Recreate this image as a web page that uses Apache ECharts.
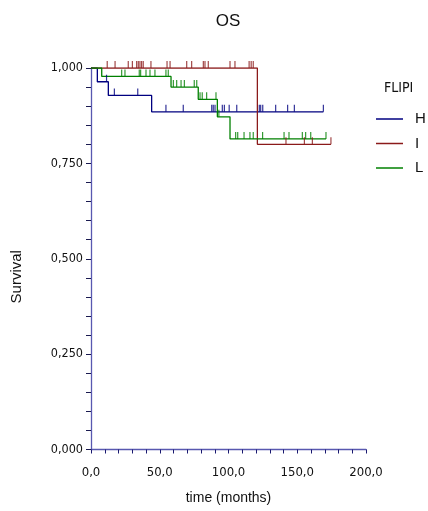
<!DOCTYPE html>
<html><head><meta charset="utf-8">
<script src="https://cdn.jsdelivr.net/npm/echarts@6/dist/echarts.min.js"></script>
<style>html,body{margin:0;padding:0;background:#fff}#c{width:428px;height:511px}</style>
</head><body><div id="c"></div>
<script>
// Kaplan-Meier step data (time in months, survival)
const groupNames = ['H', 'I', 'L'];
const hTimes = [0, 4.6, 12.6, 44.1, 169];
const hSurv  = [1, 0.964, 0.928, 0.885, 0.885];
const iTimes = [0, 121, 174.5];
const iSurv  = [1, 0.8, 0.8];
const lTimes = [0, 7.8, 58.2, 78, 91.9, 101.1, 170.9];
const lSurv  = [1, 0.978, 0.95, 0.918, 0.872, 0.814, 0.814];
// censoring times
const hCensor = [11.3, 17, 34, 54.5, 67.1, 87.8, 88.9, 90.2, 95.5, 97, 100.5, 106, 122.4, 123.4, 124.9, 134.3, 143, 147.9, 169];
const iCensor = [11.8, 17.5, 27.1, 30.1, 33.2, 34.4, 35.6, 36.8, 38, 43.6, 55.3, 57.5, 69.6, 73.2, 81.7, 82.9, 85.3, 101.1, 104.7, 115, 116.5, 118, 141.8, 155.2, 161, 174.5];
const lCensor = [22.3, 24.7, 35.1, 36.1, 40, 42.9, 46.5, 54.5, 56.2, 59.9, 62.3, 65.5, 67.9, 75.1, 76.9, 79.3, 80.9, 84.1, 90.9, 93, 105.2, 106.7, 111.3, 115.6, 118, 124.8, 140.4, 144, 153.7, 156.1, 159.8, 170.9];
const xLabelValues = [0, 50, 100, 150, 200];
const yLabelValues = [0, 0.25, 0.5, 0.75, 1];

const colors = { H: '#000080', I: '#8b1a1a', L: '#008000' };

function survAt(times, surv, t) {
  let s = surv[0];
  for (let i = 0; i < times.length; i++) { if (times[i] <= t) s = surv[i]; }
  return s;
}
function steps(times, surv) { return times.map((t, i) => [t, surv[i]]); }
function censorPts(c, times, surv) { return c.map(t => [t, survAt(times, surv, t)]); }

const curveData = {
  H: [hTimes, hSurv, hCensor],
  I: [iTimes, iSurv, iCensor],
  L: [lTimes, lSurv, lCensor]
};

const series = [];
groupNames.forEach(g => {
  const [t, s] = curveData[g];
  series.push({
    name: g, type: 'line', step: 'end', data: steps(t, s), symbol: 'none',
    lineStyle: { color: colors[g], width: 1.3 }, itemStyle: { color: colors[g] },
    silent: true, z: 3
  });
});
groupNames.forEach(g => {
  const [t, s, c] = curveData[g];
  series.push({
    name: g + ' censored', type: 'scatter', data: censorPts(c, t, s),
    symbol: 'rect', symbolSize: [1.2, 7], symbolOffset: [0, -3.5],
    itemStyle: { color: colors[g] }, silent: true, z: 4
  });
});

const narrow = "'Liberation Sans Narrow', 'DejaVu Sans Condensed', 'Liberation Sans', sans-serif";
const sans = "'Liberation Sans', Arial, sans-serif";
const fmt = v => v.toFixed(3).replace('.', ',');

const chart = echarts.init(document.getElementById('c'), null, { renderer: 'canvas' });
chart.setOption({
  animation: false,
  backgroundColor: '#fff',
  title: [
    { text: 'OS', left: 228, top: 13, padding: 0, textAlign: 'center',
      textStyle: { fontFamily: sans, fontWeight: 'normal', fontSize: 17, color: '#111' } },
    { text: 'FLIPI', left: 384, top: 81, padding: 0,
      textStyle: { fontFamily: narrow, fontWeight: 'normal', fontSize: 14, color: '#111' } }
  ],
  legend: {
    data: groupNames, orient: 'vertical', left: 376, top: 111, padding: 0,
    icon: 'rect', itemWidth: 27, itemHeight: 1.5, itemGap: 8.5,
    textStyle: { fontFamily: sans, fontSize: 15, color: '#111', padding: [0, 0, 0, 7], lineHeight: 16 },
    selectedMode: false
  },
  grid: { left: 91, right: 62, top: 68, bottom: 61.5, containLabel: false, outerBoundsMode: 'none' },
  xAxis: {
    type: 'value', min: 0, max: 200, interval: 10,
    name: 'time (months)', nameLocation: 'middle', nameGap: 42,
    nameTextStyle: { fontFamily: sans, fontSize: 14, color: '#111' },
    axisLine: { show: true, onZero: false, lineStyle: { color: '#5858b0', width: 1.3 } },
    axisTick: { show: true, length: 4, lineStyle: { color: '#1a1a70' } },
    axisLabel: { margin: 17, fontFamily: narrow, fontSize: 13, color: '#111',
      formatter: v => xLabelValues.includes(v) ? v.toFixed(1).replace('.', ',') : '' },
    splitLine: { show: false }
  },
  yAxis: {
    type: 'value', min: 0, max: 1, interval: 0.05,
    name: 'Survival', nameLocation: 'middle', nameGap: 67, nameRotate: 90,
    nameTextStyle: { fontFamily: sans, fontSize: 15, color: '#111', padding: [0, 36, 0, 0] },
    axisLine: { show: true, lineStyle: { color: '#5858b0', width: 1.3 } },
    axisTick: { show: true, length: 5, lineStyle: { color: '#1a1a50' } },
    axisLabel: { margin: 8, fontFamily: narrow, fontSize: 12.5, color: '#111',
      formatter: v => yLabelValues.some(y => Math.abs(y - v) < 1e-6) ? fmt(v) : '' },
    splitLine: { show: false }
  },
  series: series
});
</script></body></html>
